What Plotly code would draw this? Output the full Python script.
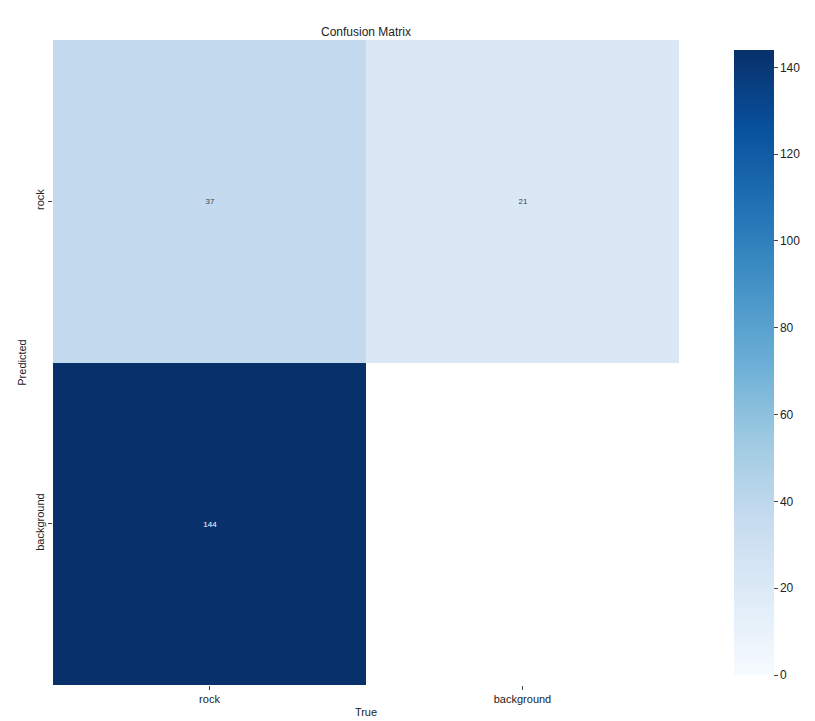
import plotly.graph_objects as go

true_labels = ["rock", "background"]
pred_labels = ["rock", "background"]
counts = [[37, 21], [144, None]]

blues = [[0.0, "#f7fbff"], [0.125, "#deebf7"], [0.25, "#c6dbef"], [0.375, "#9ecae1"],
         [0.5, "#6baed6"], [0.625, "#4292c6"], [0.75, "#2171b5"], [0.875, "#08519c"], [1.0, "#08306b"]]

fig = go.Figure(go.Heatmap(
    z=counts, x=true_labels, y=pred_labels, colorscale=blues, zmin=0, zmax=144,
    texttemplate="%{z}", textfont=dict(size=8),
    xgap=0, ygap=0, hoverongaps=False,
    colorbar=dict(x=1.072, xanchor="left", y=0.5, yanchor="middle", len=1, lenmode="fraction",
                  thickness=40, outlinewidth=0, tickvals=[0, 20, 40, 60, 80, 100, 120, 140],
                  ticks="outside", ticklen=4, tickfont=dict(size=12, color="#222")),
))
fig.update_layout(
    width=815, height=721, margin=dict(l=45, r=122, t=32, b=41),
    paper_bgcolor="white", plot_bgcolor="white",
    font=dict(family="Liberation Sans, Arial, sans-serif", color="#222"),
    title=dict(text="Confusion Matrix", x=0.5 * 648 / 648, xref="paper", xanchor="center",
               y=1, yref="paper", yanchor="bottom", pad=dict(b=4), font=dict(size=12)),
    xaxis=dict(title=dict(text="True", font=dict(size=11), standoff=4), showgrid=False, zeroline=False,
               ticks="outside", ticklen=4, tickfont=dict(size=11)),
    yaxis=dict(title=dict(text="Predicted", font=dict(size=11), standoff=4), autorange="reversed",
               showgrid=False, zeroline=False, ticks="outside", ticklen=4, tickangle=-90,
               tickfont=dict(size=11)),
)
fig.write_html("out.html")
